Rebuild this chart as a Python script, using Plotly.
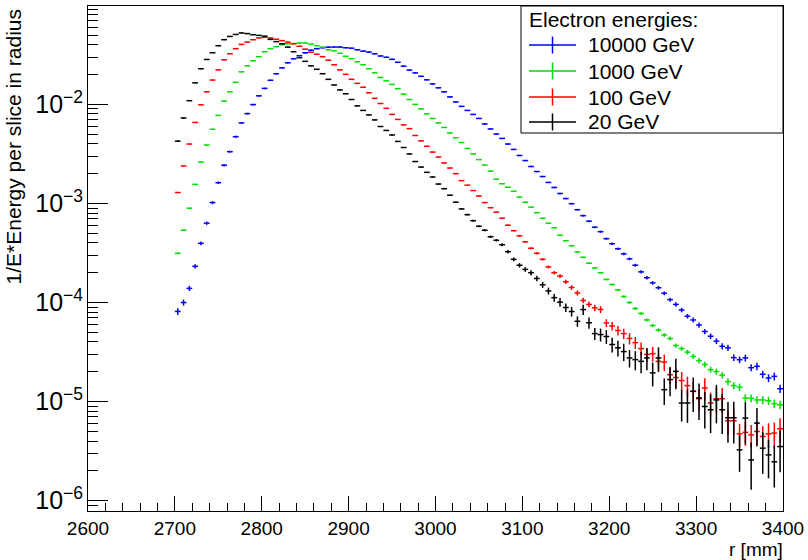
import plotly.graph_objects as go

# ---------------- data (histogram, 120 bins of r between 2600 and 3400 mm) ----------------
R_MIN, R_MAX, N_BINS, FIRST_BIN = 2600.0, 3400.0, 120, 15
bin_w = (R_MAX - R_MIN) / N_BINS
r_centers = [R_MIN + (k + 0.5) * bin_w for k in range(FIRST_BIN, N_BINS)]

series_names = ["10000 GeV", "1000 GeV", "100 GeV", "20 GeV"]
legend_title = "Electron energies:"

e10000 = [
    8.13e-5, 1.00e-4, 1.39e-4, 2.32e-4, 3.96e-4, 6.32e-4, 1.02e-3, 1.62e-3, 2.43e-3, 3.33e-3,
    4.72e-3, 6.50e-3, 8.07e-3, 9.95e-3, 1.22e-2, 1.45e-2, 1.75e-2, 2.04e-2, 2.34e-2, 2.63e-2,
    2.89e-2, 3.10e-2, 3.32e-2, 3.52e-2, 3.65e-2, 3.73e-2, 3.78e-2, 3.79e-2, 3.79e-2, 3.73e-2,
    3.69e-2, 3.56e-2, 3.45e-2, 3.37e-2, 3.24e-2, 3.08e-2, 2.99e-2, 2.85e-2, 2.66e-2, 2.43e-2,
    2.22e-2, 2.08e-2, 1.92e-2, 1.77e-2, 1.61e-2, 1.47e-2, 1.34e-2, 1.19e-2, 1.06e-2, 9.55e-3,
    8.69e-3, 7.92e-3, 7.21e-3, 6.35e-3, 5.65e-3, 5.02e-3, 4.53e-3, 3.98e-3, 3.51e-3, 3.05e-3,
    2.71e-3, 2.36e-3, 2.10e-3, 1.87e-3, 1.63e-3, 1.45e-3, 1.26e-3, 1.12e-3, 9.95e-4, 8.65e-4,
    7.53e-4, 6.62e-4, 5.75e-4, 5.19e-4, 4.41e-4, 3.92e-4, 3.49e-4, 3.10e-4, 2.76e-4, 2.38e-4,
    2.04e-4, 1.78e-4, 1.58e-4, 1.41e-4, 1.24e-4, 1.07e-4, 9.57e-5, 8.41e-5, 7.28e-5, 6.67e-5,
    5.93e-5, 5.10e-5, 4.57e-5, 4.08e-5, 3.62e-5, 3.49e-5, 2.78e-5, 2.65e-5, 2.76e-5, 2.20e-5,
    2.27e-5, 1.89e-5, 1.73e-5, 1.80e-5, 1.35e-5,
]
e1000 = [
    3.14e-4, 5.37e-4, 8.96e-4, 1.56e-3, 2.62e-3, 3.89e-3, 5.61e-3, 7.74e-3, 1.08e-2, 1.34e-2,
    1.67e-2, 2.13e-2, 2.45e-2, 2.75e-2, 3.03e-2, 3.40e-2, 3.65e-2, 3.82e-2, 4.00e-2, 4.09e-2,
    4.11e-2, 4.16e-2, 4.16e-2, 4.05e-2, 3.91e-2, 3.78e-2, 3.56e-2, 3.47e-2, 3.28e-2, 3.06e-2,
    2.89e-2, 2.69e-2, 2.51e-2, 2.29e-2, 2.08e-2, 1.87e-2, 1.73e-2, 1.59e-2, 1.44e-2, 1.27e-2,
    1.12e-2, 1.00e-2, 9.00e-3, 8.02e-3, 7.21e-3, 6.50e-3, 5.85e-3, 5.15e-3, 4.60e-3, 4.12e-3,
    3.59e-3, 3.16e-3, 2.77e-3, 2.44e-3, 2.12e-3, 1.76e-3, 1.58e-3, 1.46e-3, 1.33e-3, 1.16e-3,
    1.03e-3, 9.18e-4, 8.07e-4, 7.10e-4, 6.32e-4, 5.69e-4, 4.78e-4, 4.20e-4, 3.74e-4, 3.25e-4,
    2.86e-4, 2.49e-4, 2.24e-4, 2.00e-4, 1.71e-4, 1.52e-4, 1.34e-4, 1.15e-4, 1.00e-4, 8.71e-5,
    7.76e-5, 6.67e-5, 5.86e-5, 5.28e-5, 4.70e-5, 4.34e-5, 3.68e-5, 3.43e-5, 3.16e-5, 2.86e-5,
    2.59e-5, 2.37e-5, 2.10e-5, 2.01e-5, 1.85e-5, 1.59e-5, 1.45e-5, 1.40e-5, 1.09e-5, 1.08e-5,
    1.04e-5, 1.04e-5, 1.02e-5, 9.53e-6, 9.29e-6,
]
e100 = [
    1.29e-3, 2.39e-3, 3.98e-3, 6.58e-3, 9.89e-3, 1.34e-2, 1.76e-2, 2.23e-2, 2.82e-2, 3.24e-2,
    3.65e-2, 4.03e-2, 4.25e-2, 4.50e-2, 4.68e-2, 4.76e-2, 4.68e-2, 4.55e-2, 4.40e-2, 4.25e-2,
    4.09e-2, 3.86e-2, 3.61e-2, 3.36e-2, 3.21e-2, 3.03e-2, 2.79e-2, 2.51e-2, 2.23e-2, 2.01e-2,
    1.79e-2, 1.63e-2, 1.49e-2, 1.31e-2, 1.15e-2, 1.02e-2, 9.12e-3, 7.92e-3, 7.05e-3, 6.21e-3,
    5.69e-3, 4.85e-3, 4.28e-3, 3.78e-3, 3.30e-3, 2.94e-3, 2.56e-3, 2.28e-3, 2.00e-3, 1.70e-3,
    1.53e-3, 1.35e-3, 1.19e-3, 1.02e-3, 9.06e-4, 8.17e-4, 7.10e-4, 6.03e-4, 5.31e-4, 4.72e-4,
    4.10e-4, 3.53e-4, 3.14e-4, 2.73e-4, 2.29e-4, 2.00e-4, 1.85e-4, 1.62e-4, 1.42e-4, 1.25e-4,
    1.05e-4, 9.57e-5, 8.85e-5, 8.51e-5, 6.22e-5, 5.79e-5, 5.22e-5, 4.86e-5, 4.34e-5, 3.94e-5,
    3.43e-5, 2.99e-5, 3.05e-5, 2.55e-5, 2.51e-5, 1.87e-5, 1.75e-5, 1.63e-5, 1.45e-5, 1.27e-5,
    1.07e-5, 1.37e-5, 9.68e-6, 1.07e-5, 1.07e-5, 6.41e-6, 6.41e-6, 4.73e-6, 4.90e-6, 4.62e-6,
    4.99e-6, 4.45e-6, 4.73e-6, 4.81e-6, 5.32e-6,
]
e20 = [
    4.25e-3, 7.29e-3, 1.09e-2, 1.65e-2, 2.29e-2, 2.84e-2, 3.32e-2, 3.91e-2, 4.50e-2, 4.85e-2,
    5.08e-2, 5.26e-2, 5.18e-2, 5.05e-2, 4.97e-2, 4.88e-2, 4.53e-2, 4.30e-2, 4.09e-2, 3.78e-2,
    3.40e-2, 2.96e-2, 2.72e-2, 2.45e-2, 2.26e-2, 2.04e-2, 1.79e-2, 1.57e-2, 1.40e-2, 1.28e-2,
    1.12e-2, 9.66e-3, 8.69e-3, 7.83e-3, 6.97e-3, 5.98e-3, 5.46e-3, 4.91e-3, 4.23e-3, 3.67e-3,
    3.16e-3, 2.65e-3, 2.33e-3, 2.06e-3, 1.85e-3, 1.57e-3, 1.41e-3, 1.21e-3, 1.03e-3, 8.81e-4,
    7.71e-4, 6.70e-4, 5.89e-4, 5.37e-4, 4.61e-4, 4.25e-4, 3.83e-4, 3.26e-4, 2.73e-4, 2.38e-4,
    2.16e-4, 2.00e-4, 1.75e-4, 1.51e-4, 1.31e-4, 1.12e-4, 1.01e-4, 8.91e-5, 8.11e-5, 6.47e-5,
    8.49e-5, 6.25e-5, 4.86e-5, 4.75e-5, 4.54e-5, 3.77e-5, 3.49e-5, 3.20e-5, 2.76e-5, 2.65e-5,
    2.55e-5, 2.76e-5, 1.95e-5, 2.76e-5, 1.32e-5, 1.67e-5, 2.02e-5, 9.68e-6, 9.68e-6, 1.27e-5,
    1.09e-5, 8.93e-6, 8.28e-6, 1.04e-5, 8.28e-6, 6.87e-6, 6.87e-6, 3.26e-6, 6.82e-6, 2.58e-6,
    6.07e-6, 3.39e-6, 2.90e-6, 2.47e-6, 3.52e-6,
]

# relative statistical errors per bin
rel_err_10000 = [
    0.08, 0.07, 0.06, 0.05, 0.045, 0.04, 0.035, 0.03, 0.03, 0.025,
    0.025, 0.02, 0.02, 0.02, 0.02, 0.018, 0.018, 0.016, 0.016, 0.015,
    0.015, 0.015, 0.015, 0.015, 0.015, 0.015, 0.015, 0.015, 0.015, 0.015,
    0.015, 0.015, 0.015, 0.015, 0.015, 0.015, 0.015, 0.015, 0.015, 0.015,
    0.015, 0.015, 0.015, 0.015, 0.015, 0.015, 0.015, 0.015, 0.015, 0.015,
    0.015, 0.015, 0.015, 0.015, 0.015, 0.015, 0.015, 0.015, 0.015, 0.015,
    0.015, 0.015, 0.015, 0.015, 0.015, 0.016, 0.017, 0.018, 0.019, 0.02,
    0.021, 0.022, 0.023, 0.024, 0.025, 0.027, 0.029, 0.031, 0.033, 0.035,
    0.037, 0.039, 0.041, 0.043, 0.045, 0.047, 0.05, 0.052, 0.055, 0.057,
    0.06, 0.062, 0.065, 0.067, 0.07, 0.072, 0.075, 0.077, 0.08, 0.082,
    0.085, 0.087, 0.09, 0.092, 0.095,
]
rel_err_1000 = [
    0.012, 0.009, 0.007, 0.005, 0.004, 0.004, 0.004, 0.004, 0.004, 0.004,
    0.004, 0.004, 0.004, 0.004, 0.004, 0.004, 0.004, 0.004, 0.004, 0.004,
    0.004, 0.004, 0.004, 0.004, 0.004, 0.004, 0.004, 0.004, 0.004, 0.004,
    0.004, 0.004, 0.004, 0.004, 0.004, 0.004, 0.004, 0.004, 0.004, 0.004,
    0.004, 0.004, 0.004, 0.004, 0.004, 0.004, 0.004, 0.004, 0.004, 0.004,
    0.004, 0.004, 0.004, 0.004, 0.004, 0.004, 0.004, 0.004, 0.004, 0.004,
    0.005, 0.006, 0.007, 0.008, 0.009, 0.01, 0.011, 0.012, 0.013, 0.014,
    0.015, 0.016, 0.018, 0.02, 0.022, 0.024, 0.026, 0.028, 0.03, 0.032,
    0.034, 0.036, 0.038, 0.04, 0.043, 0.046, 0.05, 0.053, 0.056, 0.06,
    0.063, 0.066, 0.07, 0.073, 0.076, 0.08, 0.083, 0.086, 0.09, 0.09,
    0.09, 0.095, 0.095, 0.1, 0.1,
]
rel_err_100 = [
    0.01, 0.008, 0.007, 0.006, 0.006, 0.006, 0.006, 0.006, 0.006, 0.006,
    0.006, 0.006, 0.006, 0.006, 0.006, 0.006, 0.006, 0.006, 0.006, 0.006,
    0.006, 0.006, 0.006, 0.006, 0.006, 0.006, 0.006, 0.006, 0.006, 0.006,
    0.006, 0.006, 0.006, 0.006, 0.006, 0.006, 0.006, 0.006, 0.006, 0.006,
    0.006, 0.006, 0.006, 0.006, 0.006, 0.006, 0.006, 0.006, 0.006, 0.006,
    0.008, 0.009, 0.01, 0.011, 0.012, 0.013, 0.014, 0.016, 0.018, 0.02,
    0.022, 0.025, 0.028, 0.03, 0.035, 0.04, 0.045, 0.05, 0.055, 0.06,
    0.065, 0.07, 0.075, 0.08, 0.09, 0.1, 0.11, 0.12, 0.13, 0.14,
    0.15, 0.16, 0.17, 0.18, 0.19, 0.2, 0.21, 0.22, 0.23, 0.24,
    0.25, 0.26, 0.27, 0.28, 0.28, 0.28, 0.28, 0.26, 0.27, 0.26,
    0.27, 0.27, 0.28, 0.28, 0.28,
]
rel_err_20 = [
    0.02, 0.015, 0.012, 0.01, 0.01, 0.008, 0.008, 0.008, 0.008, 0.008,
    0.008, 0.008, 0.008, 0.008, 0.008, 0.008, 0.008, 0.008, 0.008, 0.008,
    0.008, 0.008, 0.008, 0.008, 0.008, 0.008, 0.008, 0.008, 0.008, 0.008,
    0.008, 0.008, 0.008, 0.008, 0.008, 0.009, 0.009, 0.009, 0.009, 0.009,
    0.01, 0.01, 0.011, 0.012, 0.013, 0.014, 0.015, 0.016, 0.017, 0.019,
    0.02, 0.022, 0.024, 0.026, 0.028, 0.03, 0.035, 0.04, 0.045, 0.05,
    0.055, 0.06, 0.065, 0.07, 0.08, 0.09, 0.1, 0.1, 0.11, 0.12,
    0.12, 0.13, 0.14, 0.15, 0.16, 0.17, 0.18, 0.2, 0.2, 0.22,
    0.24, 0.25, 0.27, 0.28, 0.3, 0.32, 0.34, 0.35, 0.37, 0.38,
    0.4, 0.4, 0.42, 0.42, 0.43, 0.44, 0.45, 0.4, 0.45, 0.5,
    0.42, 0.45, 0.42, 0.45, 0.45,
]

series_values = [e10000, e1000, e100, e20]
series_errors = [rel_err_10000, rel_err_1000, rel_err_100, rel_err_20]
colors = ["#0000ff", "#00dd00", "#ff0000", "#000000"]

# ---------------- figure ----------------
fig = go.Figure()
for name, vals, rel, col in zip(series_names, series_values, series_errors, colors):
    assert len(vals) == len(r_centers) == len(rel), (name, len(vals), len(rel))
    fig.add_trace(go.Scatter(
        x=r_centers, y=vals, mode="markers", name=name, showlegend=False,
        marker=dict(size=1, color=col),
        error_y=dict(type="data", array=[v * e for v, e in zip(vals, rel)], symmetric=True,
                     width=0, thickness=1.5, color=col),
        error_x=dict(type="constant", value=bin_w / 2, width=0, thickness=1.5, color=col),
    ))

# plot area in page pixels
L, R, T, B = 88, 783, 6, 511
W, H = 808, 560


def px_x(px):
    return (px - L) / (R - L)


def px_y(py):
    return (B - py) / (B - T)


FONT = "Liberation Sans, Arial, Helvetica, sans-serif"

fig.update_layout(
    width=W, height=H, autosize=False,
    margin=dict(l=L, r=W - R, t=T, b=H - B, pad=0, autoexpand=False),
    paper_bgcolor="white", plot_bgcolor="white",
    font=dict(family=FONT, color="black", size=20),
    showlegend=False,
)
fig.update_xaxes(
    range=[R_MIN, R_MAX], tick0=2600, dtick=100,
    ticks="inside", ticklen=15, tickwidth=1, tickcolor="black",
    minor=dict(ticks="inside", ticklen=8, dtick=20, tickcolor="black", showgrid=False),
    showline=True, linecolor="black", linewidth=1, mirror=True,
    showgrid=False, zeroline=False, tickfont=dict(size=19, family=FONT),
)
fig.update_yaxes(
    type="log", range=[-6.104, -1.007], dtick=1, exponentformat="power",
    ticks="inside", ticklen=20, tickwidth=1, tickcolor="black",
    minor=dict(ticks="inside", ticklen=10, dtick="D1", tickcolor="black", showgrid=False),
    showline=True, linecolor="black", linewidth=1, mirror=True,
    showgrid=False, zeroline=False, tickfont=dict(size=20, family=FONT),
)

annotations = [
    dict(text="1/E*Energy per slice in radius", xref="paper", yref="paper",
         x=px_x(13), y=px_y(8), xanchor="center", yanchor="top", textangle=-90,
         showarrow=False, font=dict(size=21, family=FONT)),
    dict(text="r [mm]", xref="paper", yref="paper", x=px_x(785), y=px_y(549),
         xanchor="right", yanchor="middle", showarrow=False, font=dict(size=19, family=FONT)),
    dict(text=legend_title, xref="paper", yref="paper", x=px_x(527), y=px_y(19),
         xanchor="left", yanchor="middle", showarrow=False, font=dict(size=21, family=FONT)),
]
shapes = [
    dict(type="rect", xref="paper", yref="paper", x0=px_x(521), x1=px_x(783),
         y0=px_y(133), y1=px_y(T), line=dict(color="black", width=1), fillcolor="white",
         layer="above"),
]
row_y = [45, 71, 97, 122]
for name, col, yy in zip(series_names, colors, row_y):
    shapes.append(dict(type="line", xref="paper", yref="paper", x0=px_x(529), x1=px_x(576),
                       y0=px_y(yy), y1=px_y(yy), line=dict(color=col, width=1.5), layer="above"))
    shapes.append(dict(type="line", xref="paper", yref="paper", x0=px_x(552.5), x1=px_x(552.5),
                       y0=px_y(yy - 8.5), y1=px_y(yy + 8.5), line=dict(color=col, width=1.5),
                       layer="above"))
    annotations.append(dict(text=name, xref="paper", yref="paper", x=px_x(586), y=px_y(yy),
                            xanchor="left", yanchor="middle", showarrow=False,
                            font=dict(size=21, family=FONT)))

fig.update_layout(annotations=annotations, shapes=shapes)
fig.write_html("out.html")
